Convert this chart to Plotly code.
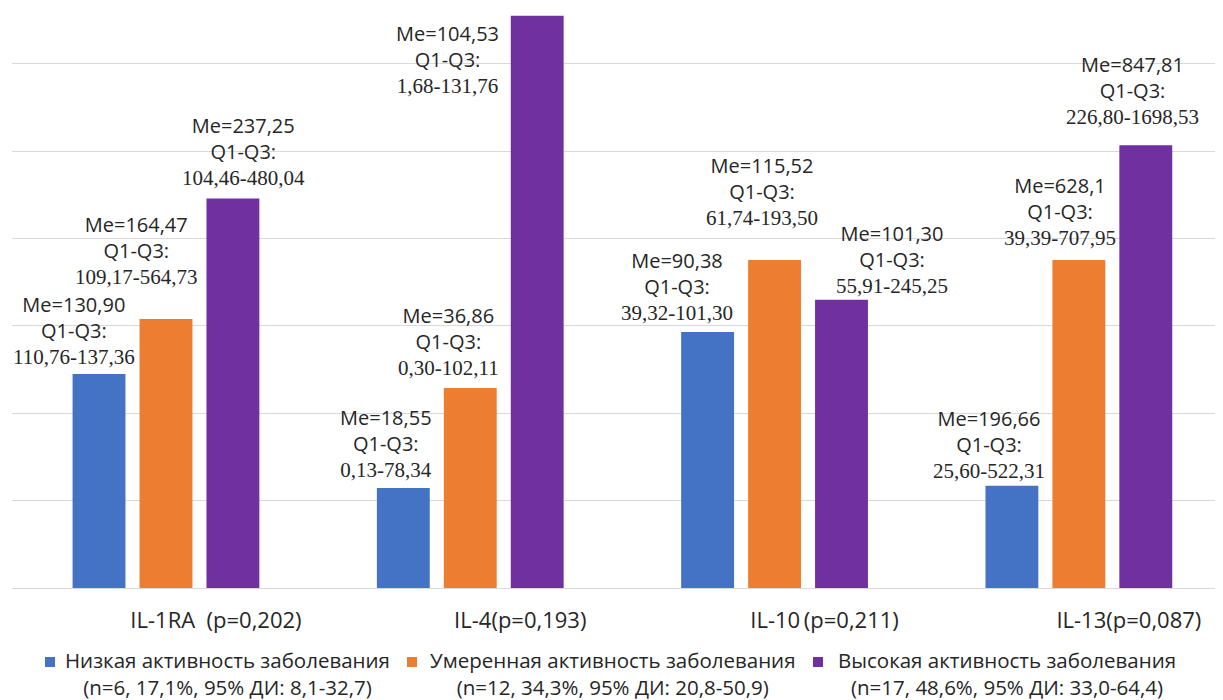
import plotly.graph_objects as go

# ---- data ----
categories = ["IL-1RA (p=0,202)", "IL-4(p=0,193)", "IL-10 (p=0,211)", "IL-13(p=0,087)"]
tick_labels = ["IL-1RA\u00a0 (p=0,202)", "IL-4(p=0,193)", "IL-10\u2009(p=0,211)", "IL-13(p=0,087)"]

series_names = [
    "Низкая активность заболевания",
    "Умеренная активность заболевания",
    "Высокая активность заболевания",
]
series_notes = [
    "(n=6, 17,1%, 95% ДИ: 8,1-32,7)",
    "(n=12, 34,3%, 95% ДИ: 20,8-50,9)",
    "(n=17, 48,6%, 95% ДИ: 33,0-64,4)",
]
series_colors = ["#4472C4", "#ED7D31", "#7030A0"]

# bar heights as drawn in the picture (grid units)
low_heights = [2.45, 1.145, 2.93, 1.17]
mid_heights = [3.08, 2.29, 3.755, 3.755]
high_heights = [4.46, 6.55, 3.30, 5.07]

# medians and interquartile ranges printed above the bars
low_me = ["130,90", "18,55", "90,38", "196,66"]
low_q = ["110,76-137,36", "0,13-78,34", "39,32-101,30", "25,60-522,31"]
mid_me = ["164,47", "36,86", "115,52", "628,1"]
mid_q = ["109,17-564,73", "0,30-102,11", "61,74-193,50", "39,39-707,95"]
high_me = ["237,25", "104,53", "101,30", "847,81"]
high_q = ["104,46-480,04", "1,68-131,76", "55,91-245,25", "226,80-1698,53"]

# ---- label placement (pixel offsets of label centres, not data) ----
label_dx = [  # relative to group centre
    [-92, -84, -98, -90],
    [-29, -22, -13, -19],
    [78, -23, 117, 54],
]
label_dy = [  # bar top minus middle-line centre
    [44, 45, 46, 42],
    [69, 47, 69, 49],
    [47, -43, 41, 55],
]

heights = [low_heights, mid_heights, high_heights]
medians = [low_me, mid_me, high_me]
quarts = [low_q, mid_q, high_q]

SANS = "Open Sans"
SERIF = "Liberation Serif"
TXT = "#262626"

# page offset (html body margin) and plot-area geometry in figure pixels
PLOT_L, PLOT_W = 4, 1219
PLOT_T, PLOT_H = 0, 580


def px_x(page_x):
    return (page_x - 8 - PLOT_L) / PLOT_W


def px_y(page_y):
    return (PLOT_H - (page_y - 8 - PLOT_T)) / PLOT_H


fig = go.Figure()
for j in range(3):
    fig.add_trace(go.Bar(
        x=categories, y=heights[j], name=series_names[j] + " " + series_notes[j],
        marker=dict(color=series_colors[j], line=dict(width=0)),
        hoverinfo="skip", showlegend=False,
    ))

annotations = []
for j in range(3):
    for i, cat in enumerate(categories):
        txt = (f"Me={medians[j][i]}<br>Q1-Q3:<br>"
               f"<span style='font-family:{SERIF};font-size:21px'>{quarts[j][i]}</span>")
        annotations.append(dict(
            x=cat, y=heights[j][i], xref="x", yref="y",
            text=txt, showarrow=False, align="center",
            xanchor="center", yanchor="middle",
            xshift=label_dx[j][i], yshift=label_dy[j][i],
            font=dict(family=SANS, size=20, color=TXT),
        ))

# legend drawn as squares + centred two-line texts
legend_sq_x = [45, 407, 813]
legend_txt_cx = [227, 613, 1007]
shapes = []
for j in range(3):
    shapes.append(dict(
        type="rect", xref="paper", yref="paper",
        x0=px_x(legend_sq_x[j]), x1=px_x(legend_sq_x[j] + 10),
        y0=px_y(667), y1=px_y(657),
        fillcolor=series_colors[j], line=dict(width=0),
    ))
    annotations.append(dict(
        x=px_x(legend_txt_cx[j]), y=px_y(673), xref="paper", yref="paper",
        text=series_names[j] + "<br>" + series_notes[j],
        showarrow=False, align="center", xanchor="center", yanchor="middle",
        font=dict(family=SANS, size=20.5, color=TXT),
    ))

fig.update_layout(
    width=1223, height=700,
    margin=dict(l=PLOT_L, r=0, t=PLOT_T, b=700 - PLOT_T - PLOT_H, autoexpand=False),
    paper_bgcolor="white", plot_bgcolor="white",
    barmode="group", bargap=0.34, bargroupgap=0.21,
    annotations=annotations, shapes=shapes,
    font=dict(family=SANS, size=20, color=TXT),
    showlegend=False,
    xaxis=dict(
        type="category", range=[-0.506, 3.5],
        tickmode="array", tickvals=categories, ticktext=tick_labels,
        tickfont=dict(family=SANS, size=22, color=TXT),
        ticklabelshift=50, ticklabelstandoff=17,
        showgrid=False, showline=False, zeroline=False, ticks="",
    ),
    yaxis=dict(
        range=[0, 6.64], dtick=1, tick0=0,
        showticklabels=False, ticks="",
        showgrid=True, gridcolor="#d9d9d9", gridwidth=1.3,
        zeroline=True, zerolinecolor="#d9d9d9", zerolinewidth=1.3,
    ),
)

fig.write_html("out.html")
